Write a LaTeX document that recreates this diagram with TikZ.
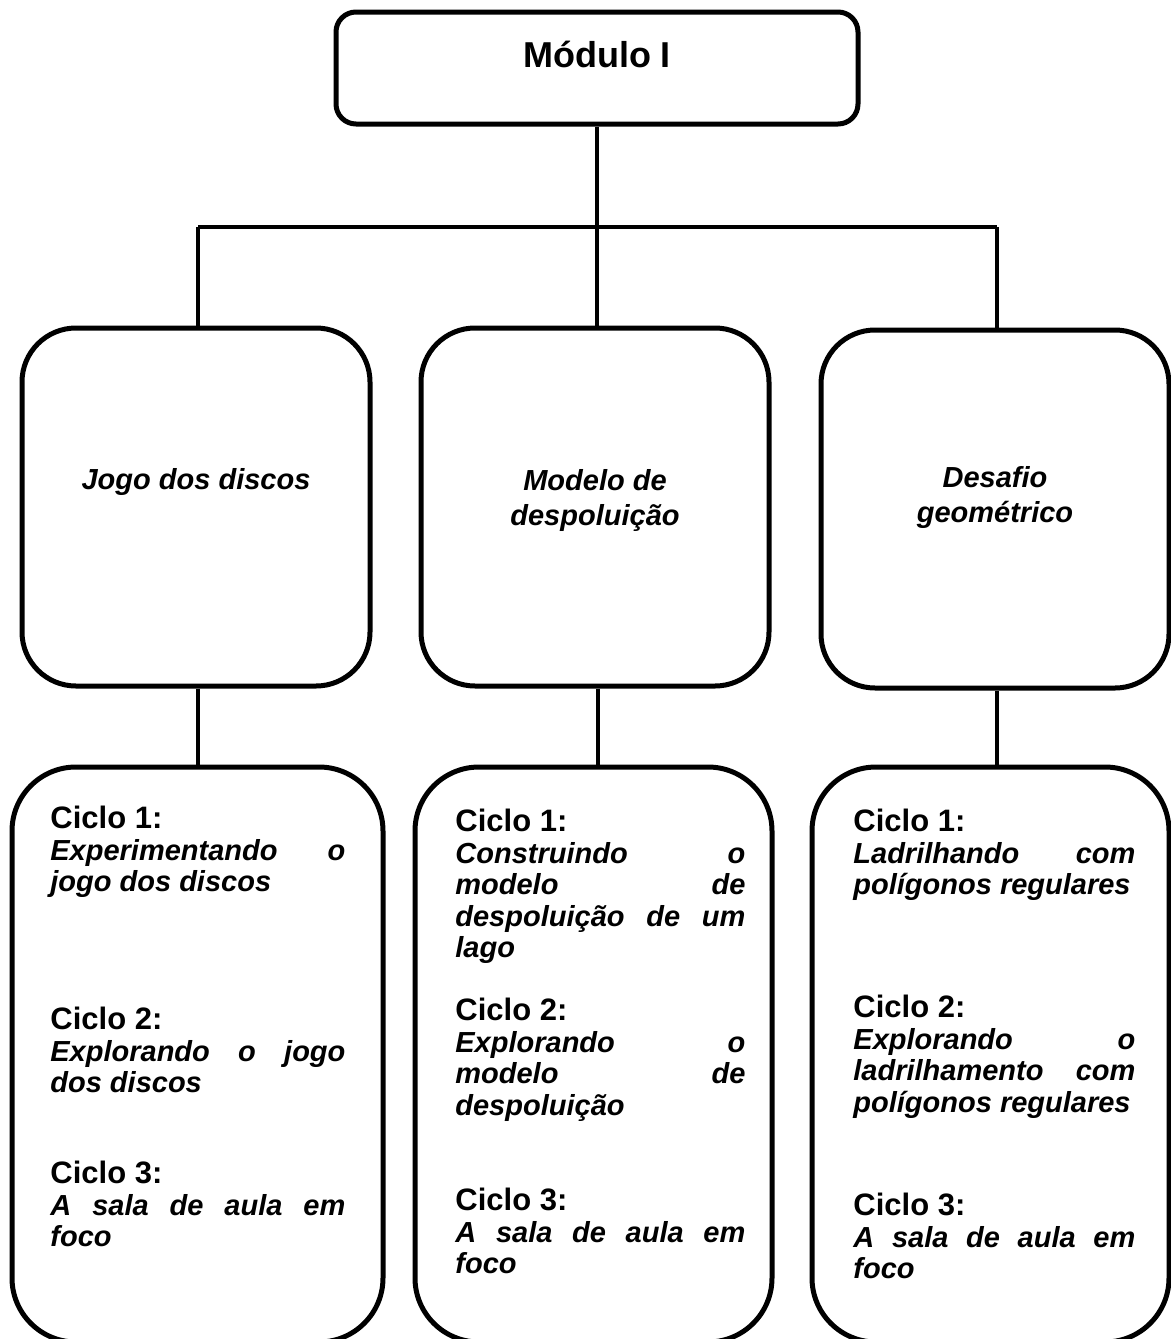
\documentclass[tikz,border=0pt]{standalone}
\usepackage{fontspec}
\setmainfont{Liberation Sans}
\tikzset{
  topbox/.style={draw, line width=2.5pt, rounded corners=10pt, minimum width=261pt, minimum height=56pt, inner sep=0pt},
  upbox/.style={draw, line width=2.5pt, rounded corners=27pt, minimum width=174pt, minimum height=179pt, inner sep=0pt},
  lowbox/.style={draw, line width=2.5pt, rounded corners=32pt, minimum height=287.5pt, inner sep=0pt},
  link/.style={line width=2pt},
  cycle/.style={anchor=north west, inner sep=0pt, align=justify, font=\bfseries\fontsize{14.5pt}{15.75pt}\selectfont},
  tag/.style={align=center, inner sep=0pt, font=\bfseries\itshape\fontsize{14.5pt}{17.5pt}\selectfont}
}
\newcommand{\ciclo}[2]{\hyphenpenalty=10000\tolerance=10000 {\fontsize{15.5pt}{15.75pt}\selectfont Ciclo #1:}\\ \textit{#2}}
\begin{document}
\begin{tikzpicture}[x=0.5pt, y=-0.5pt]
  \useasboundingbox (0,0) rectangle (1171,1339);
  \clip (0,0) rectangle (1171,1339);

  % top of the tree
  \node[topbox] (mod) at (597,68) {};
  \node[font=\bfseries\fontsize{18pt}{20pt}\selectfont] at (597,54) {Módulo I};

  % the three activities
  \node[upbox] (jogo) at (196,507) {};
  \node[upbox] (lago) at (595,507) {};
  \node[upbox] (desafio) at (995,509) {};
  \node[tag] at (196,482) {Jogo dos discos};
  \node[tag] at (595,500) {Modelo de\\despoluição};
  \node[tag] at (995,497) {Desafio\\geométrico};

  % branches
  \coordinate (barL) at (198,227);
  \coordinate (barR) at (997,227);
  \draw[link] (mod.south) -- (597,227);
  \draw[link] (barL) -- (barR);
  \draw[link] (barL) -- (jogo.north -| barL);
  \draw[link] (597,227) -- (lago.north -| 597,0);
  \draw[link] (barR) -- (desafio.north -| barR);

  % the cycles
  \node[lowbox, minimum width=185.5pt] (cicL) at (197.5,1054.5) {};
  \node[lowbox, minimum width=178.5pt] (cicM) at (593.5,1054.5) {};
  \node[lowbox, minimum width=178.5pt] (cicR) at (990.5,1054.5) {};
  \draw[link] (jogo.south -| 198,0) -- (cicL.north -| 198,0);
  \draw[link] (lago.south -| 598,0) -- (cicM.north -| 598,0);
  \draw[link] (desafio.south -| 997,0) -- (cicR.north -| 997,0);

  % left column
  \node[cycle, text width=147.5pt] (L1) at (50,806) {\ciclo{1}{Experimentando o\linebreak jogo dos discos}};
  \node[cycle, text width=147.5pt] (L2) at (50,1007) {\ciclo{2}{Explorando o jogo\linebreak dos discos}};
  \node[cycle, text width=147.5pt] (L3) at (50,1161) {\ciclo{3}{A sala de aula em\linebreak foco}};

  % middle column
  \node[cycle, text width=145pt] (M1) at (455,809) {\ciclo{1}{Construindo o\linebreak modelo de\linebreak despoluição de um\linebreak lago}};
  \node[cycle, text width=145pt] (M2) at (455,998) {\ciclo{2}{Explorando o\linebreak modelo de\linebreak despoluição}};
  \node[cycle, text width=145pt] (M3) at (455,1188) {\ciclo{3}{A sala de aula em\linebreak foco}};

  % right column
  \node[cycle, text width=141pt] (R1) at (853,809) {\ciclo{1}{Ladrilhando com\linebreak polígonos regulares}};
  \node[cycle, text width=141pt] (R2) at (853,995) {\ciclo{2}{Explorando o\linebreak ladrilhamento com\linebreak polígonos regulares}};
  \node[cycle, text width=141pt] (R3) at (853,1193) {\ciclo{3}{A sala de aula em\linebreak foco}};
\end{tikzpicture}
\end{document}
